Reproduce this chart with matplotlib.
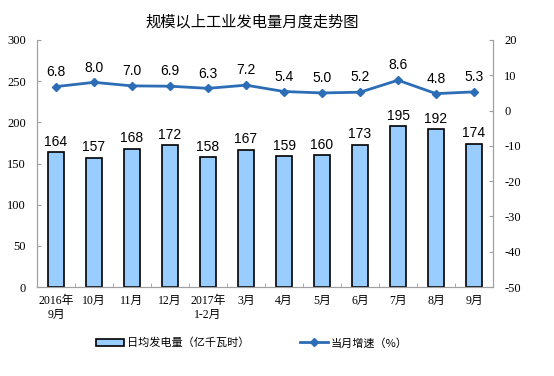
import matplotlib.pyplot as plt
import numpy as np

plt.rcParams['font.family'] = ['Noto Sans CJK SC', 'DejaVu Sans']
plt.rcParams['axes.unicode_minus'] = False

months = ['2016年\n9月', '10月', '11月', '12月', '2017年\n1-2月', '3月', '4月',
          '5月', '6月', '7月', '8月', '9月']
daily_output = [164, 157, 168, 172, 158, 167, 159, 160, 173, 195, 192, 174]
growth = [6.8, 8.0, 7.0, 6.9, 6.3, 7.2, 5.4, 5.0, 5.2, 8.6, 4.8, 5.3]

bar_color = '#99CCFF'
line_color = '#2C6DB5'
axis_gray = '#A0A0A0'
serif = ['Liberation Serif', 'Noto Sans CJK SC']

fig = plt.figure(figsize=(5.54, 3.76), dpi=100)
ax = fig.add_axes([37 / 554, 1 - 287 / 376, (493 - 37) / 554, (287 - 40) / 376])
ax2 = ax.twinx()

x = np.arange(len(months))
bars = ax.bar(x, daily_output, width=0.42, color=bar_color, edgecolor='black',
              linewidth=1.2, zorder=2)
for xi, v in zip(x, daily_output):
    ax.text(xi, v + 4, str(v), ha='center', va='bottom', fontsize=10,
            family='Liberation Sans')

ax.set_ylim(0, 300)
ax.set_yticks(range(0, 301, 50))
ax.set_xlim(-0.5, len(months) - 0.5)
ax.set_xticks(x)
ax.set_xticklabels(months, fontsize=8.5, family=serif)
ax.set_xticks(np.arange(-0.5, len(months), 1), minor=True)
ax.tick_params(axis='x', which='major', length=0, pad=6)
ax.tick_params(axis='x', which='minor', direction='in', length=3, color=axis_gray)
ax.tick_params(axis='y', direction='in', length=3, color=axis_gray, labelsize=9, pad=8)
for lab in ax.get_yticklabels():
    lab.set_family(serif)

line, = ax2.plot(x, growth, color=line_color, linewidth=2, marker='D',
                 markersize=4, zorder=3)
for xi, v in zip(x, growth):
    ax2.text(xi, v + 2.2, f'{v:.1f}', ha='center', va='bottom', fontsize=10,
             family='Liberation Sans')
ax2.set_ylim(-50, 20)
ax2.set_yticks(range(-50, 21, 10))
ax2.tick_params(axis='y', direction='in', length=3, color=axis_gray, labelsize=9, pad=8)
for lab in ax2.get_yticklabels():
    lab.set_family(serif)

for a in (ax, ax2):
    a.spines['top'].set_visible(False)
    for s in ('left', 'right', 'bottom'):
        a.spines[s].set_color(axis_gray)

fig.text(252 / 554, 1 - 22 / 376, '规模以上工业发电量月度走势图', ha='center',
         va='center', fontsize=11)

fig.legend([bars, line], ['日均发电量（亿千瓦时）', '当月增速（%）'],
           loc='center', bbox_to_anchor=(252 / 554, 1 - 343 / 376), ncol=2,
           frameon=False, fontsize=8, columnspacing=4.5, handlelength=2.5,
           handletextpad=0.3)

fig.savefig('out.png', dpi=100)
